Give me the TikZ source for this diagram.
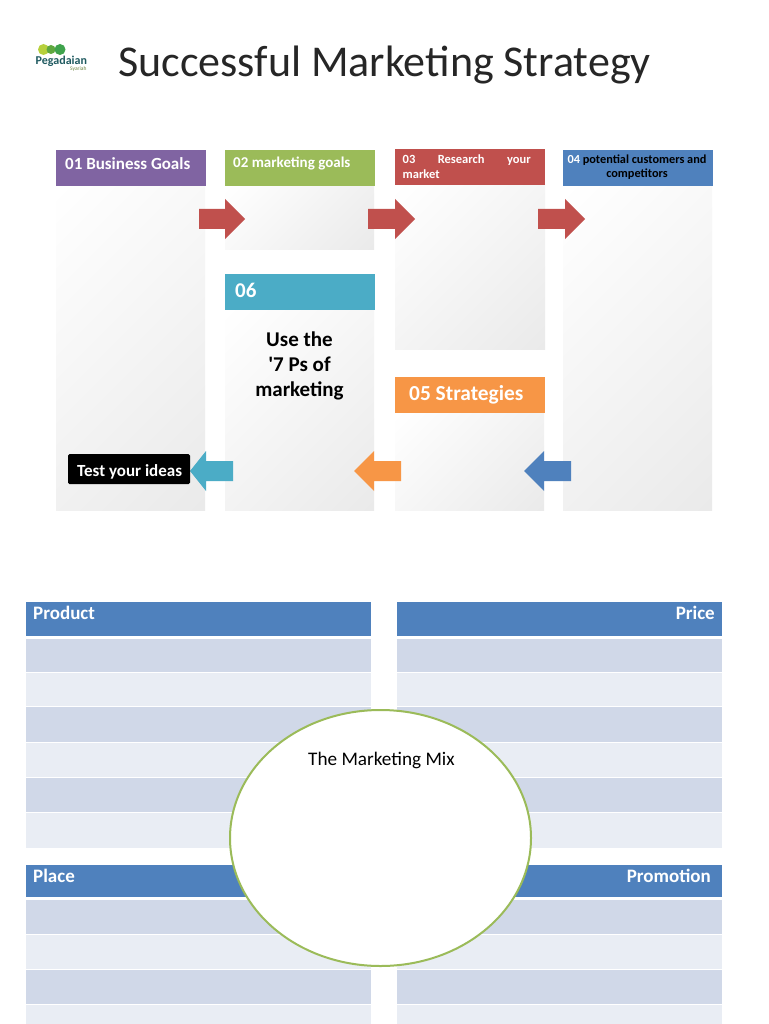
\documentclass[tikz,border=0pt]{standalone}
\usepackage{fontspec}
\setmainfont{Carlito}
\newfontfamily\rawcarlito{Carlito}
\definecolor{cpurple}{HTML}{8064A2}
\definecolor{cgreen}{HTML}{9BBB59}
\definecolor{cred}{HTML}{C0504D}
\definecolor{cblue}{HTML}{4F81BD}
\definecolor{cteal}{HTML}{4BACC6}
\definecolor{corange}{HTML}{F79646}
\definecolor{rowdark}{HTML}{D0D8E8}
\definecolor{rowlight}{HTML}{E9EDF4}
\definecolor{panelgrey}{HTML}{EAEAEA}
\definecolor{titlecol}{HTML}{262626}
\definecolor{logoteal}{HTML}{1F5A60}
\definecolor{logolime}{HTML}{B7D03C}
\definecolor{logomid}{HTML}{5FA83F}
\definecolor{logoright}{HTML}{3FA34D}
\pgfdeclarehorizontalshading{panelsh}{100bp}{color(0bp)=(white); color(15bp)=(white); color(85bp)=(panelgrey); color(100bp)=(panelgrey)}
\tikzset{
  panel/.style={shading=panelsh,shading angle=-45,draw=none},
  lbl/.style={anchor=base west,inner sep=0pt,font=\bfseries,text=white},
  lblR/.style={anchor=base east,inner sep=0pt,font=\bfseries\fontsize{19}{22}\selectfont,text=white},
  tblhead/.style={lbl,font=\bfseries\fontsize{19}{22}\selectfont},
  dark/.style={anchor=base,inner sep=0pt,font=\bfseries\fontsize{21}{25}\selectfont,text=black}
}
\newcommand{\rArrow}[3]{% tail x, head base x, tip x
  \fill[cred] (#1,209) -- (#2,209) -- (#2,199) -- (#3,219) -- (#2,239) -- (#2,229) -- (#1,229) -- cycle;}
\newcommand{\lArrow}[4]{% colour, tail x, head base x, tip x
  \fill[#1] (#2,461) -- (#3,461) -- (#3,451) -- (#4,471) -- (#3,491) -- (#3,481) -- (#2,481) -- cycle;}
\newcommand{\rows}[2]{% x1, x2
  \fill[cblue] (#1,602) rectangle (#2,635.5);
  \fill[rowdark] (#1,638.5) rectangle (#2,672);
  \fill[rowlight] (#1,672.8) rectangle (#2,706.2);
  \fill[rowdark] (#1,707) rectangle (#2,742);
  \fill[rowlight] (#1,742.8) rectangle (#2,777);
  \fill[rowdark] (#1,778) rectangle (#2,812);
  \fill[rowlight] (#1,813) rectangle (#2,848);
  \fill[cblue] (#1,865) rectangle (#2,897);
  \fill[rowdark] (#1,900) rectangle (#2,933.5);
  \fill[rowlight] (#1,934.5) rectangle (#2,969);
  \fill[rowdark] (#1,970) rectangle (#2,1004);
  \fill[rowlight] (#1,1005) rectangle (#2,1024);}
\begin{document}
\begin{tikzpicture}[x=1pt,y=-1pt]
\useasboundingbox (0,0) rectangle (768,1024);
\fill[white] (0,0) rectangle (768,1024);
% logo
\fill[logolime] (43.5,49.5) circle (5.5);
\fill[logomid] (51,49.5) circle (4.5);
\fill[logoright] (60,49.5) circle (5.5);
\node[lbl,text=logoteal,font=\bfseries\fontsize{12}{14}\selectfont] (logo) at (35.5,65) {Pegadaian};
\node[lbl,text=cgreen!70!black,font=\fontsize{5.5}{6}\selectfont] (logosub) at (70,71) {Syariah};
% title
\node[lbl,text=titlecol,font=\fontsize{44}{52}\selectfont] (title) at (118,77) {Successful Marketing Strategy};
% panels
\shade[panel] (56,186) rectangle (205,510);
\shade[panel] (225,186) rectangle (374,249);
\shade[panel] (225,309) rectangle (374,510);
\shade[panel] (395,185) rectangle (545,349);
\shade[panel] (395,413) rectangle (544,510);
\shade[panel] (563,186) rectangle (712,510);
% headers
\fill[cpurple] (56,150) rectangle (206,186);
\fill[cgreen] (225,150) rectangle (375,186);
\fill[cred] (395,149) rectangle (545,185);
\fill[cblue] (562.5,150) rectangle (712.5,186);
\fill[cteal] (225,274) rectangle (375,309.5);
\fill[corange] (394.5,377) rectangle (544.5,413);
% arrows
\rArrow{199}{225}{245}
\rArrow{368}{395}{415}
\rArrow{538}{565}{585}
\lArrow{cteal}{233}{206}{190}
\lArrow{corange}{401}{374}{354}
\lArrow{cblue}{571}{544}{524}
% header text
\node[lbl,font=\bfseries\fontsize{17}{20}\selectfont] (h1) at (65,170) {01 Business Goals};
\node[lbl,font=\bfseries\fontsize{15}{18}\selectfont] (h2) at (233,168) {02 marketing goals};
\node[lbl,text width=128pt,font=\bfseries\fontsize{12.5}{15}\selectfont] (h3) at (402.5,164) {03\hfill Research\hfill your\\market};
\node[anchor=base,inner sep=0pt,align=center,
  font=\bfseries\fontsize{12.3}{14}\selectfont] (h4) at (637,178) {\textcolor{white}{04} potential customers and\\competitors};
\node[lbl,font=\bfseries\fontsize{21}{25}\selectfont] (h6) at (235,297) {06};
\node[lbl,font=\bfseries\fontsize{21.4}{25}\selectfont] (h5) at (409,400) {05 Strategies};
\node[dark] (use1) at (299.5,346) {Use the};
\node[dark] (use2) at (299.5,371) {{\rawcarlito\symbol{39}}7 Ps of};
\node[dark] (use3) at (299.5,396) {marketing};
% test box
\fill[black,rounded corners=1.5pt] (68,454) rectangle (190,484);
\node[lbl,font=\bfseries\fontsize{17}{20}\selectfont] (test) at (77,476) {Test your ideas};
% tables
\rows{26}{371}
\rows{397}{722}
\node[tblhead] (product) at (33,619) {Product};
\node[lblR] (price) at (715,619) {Price};
\node[tblhead] (place) at (33,882) {Place};
\node[lblR] (promotion) at (711,882) {Promotion};
% circle
\draw[cgreen,line width=2pt,fill=white] (380.5,838) ellipse [x radius=150.5,y radius=128];
\node[lbl,text=black,font=\fontsize{19.2}{22}\selectfont] (mix) at (308,765) {The Marketing Mix};
\end{tikzpicture}
\end{document}
